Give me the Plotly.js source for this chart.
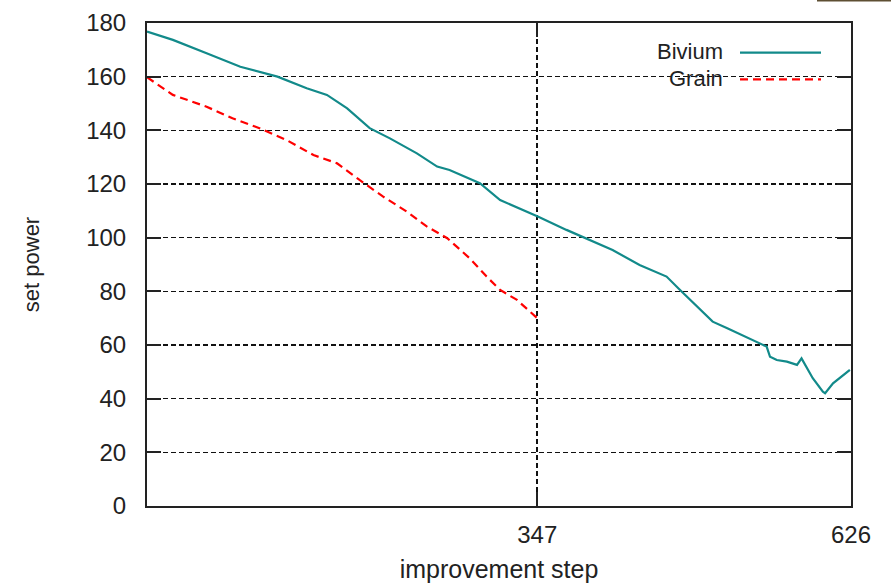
<!DOCTYPE html>
<html>
<head>
<meta charset="utf-8">
<script src="https://cdn.plot.ly/plotly-3.0.1.min.js"></script>
<style>html,body{margin:0;padding:0;background:#fff;}#chart{width:891px;height:586px;}</style>
</head>
<body>
<div id="chart"></div>
<script>
// Bivium series (improvement step, set power)
const biviumSteps = [0, 23, 53, 83, 116, 142, 160, 178, 198, 216, 240, 258, 269, 296, 314, 348, 373, 394, 414, 438, 462, 474, 486, 503, 516, 539, 551, 554, 560, 569, 578, 582, 587, 592, 601, 603, 610, 619, 625];
const biviumPower = [176.8, 173.7, 168.7, 163.7, 160, 155.7, 153.2, 148.2, 140.8, 137, 131.4, 126.5, 125.2, 120.3, 114, 107.8, 102.9, 99.1, 95.4, 89.8, 85.5, 80.5, 75.5, 68.7, 66.2, 61.9, 59.4, 55.6, 54.4, 53.8, 52.6, 55, 51.3, 47.6, 42.6, 42, 45.7, 48.8, 50.7];
// Grain series
const grainSteps = [0, 23, 53, 76, 100, 124, 148, 169, 189, 210, 231, 249, 267, 287, 302, 314, 329, 347];
const grainPower = [159.8, 153.2, 148.8, 144.5, 140.8, 136.4, 130.8, 127.7, 121.5, 115.3, 109.7, 104.1, 99.8, 92.3, 85.5, 80.5, 76.8, 70];
// Axis ticks
const xTickVals = [347, 626];
const xTickText = ["347", "626"];
const yTickVals = [0, 20, 40, 60, 80, 100, 120, 140, 160, 180];
const seriesNames = ["Bivium", "Grain"];

const tealColor = '#128a8a';
const redColor = '#ff0000';
const font = 'Liberation Sans, Arial, sans-serif';

const traces = [
  {x: biviumSteps, y: biviumPower, name: seriesNames[0], mode: 'lines', type: 'scatter',
   line: {color: tealColor, width: 2.2}},
  {x: grainSteps, y: grainPower, name: seriesNames[1], mode: 'lines', type: 'scatter',
   line: {color: redColor, width: 2.2, dash: '8px,5px'}}
];

function px2x(p){ return (p - 147) / 704; }
function py2y(p){ return (506 - p) / 483; }

const layout = {
  width: 891, height: 586,
  margin: {l: 147, r: 40, t: 23, b: 80},
  paper_bgcolor: '#fff', plot_bgcolor: '#fff',
  showlegend: false,
  font: {family: font, size: 24, color: '#222'},
  xaxis: {
    range: [0, 626], tickvals: xTickVals, ticktext: xTickText,
    showline: true, linecolor: '#222', linewidth: 2, mirror: 'ticks',
    ticks: 'inside', ticklen: 14, tickwidth: 2, tickcolor: '#222',
    showgrid: true, gridcolor: '#111', gridwidth: 1.6, griddash: '5px,3px',
    zeroline: false, ticklabelstandoff: 6,
    title: {text: 'improvement step', font: {size: 25, family: font, color: '#222'}, standoff: 14}
  },
  yaxis: {
    range: [0, 180], tickvals: yTickVals,
    showline: true, linecolor: '#222', linewidth: 2, mirror: 'ticks',
    ticks: 'inside', ticklen: 14, tickwidth: 2, tickcolor: '#222',
    showgrid: true, gridcolor: '#111', gridwidth: 1.6, griddash: '5px,3px',
    zeroline: false, ticklabelstandoff: 14,
    title: {text: 'set power', font: {size: 22, family: font, color: '#222'}, standoff: 40}
  },
  shapes: [
    {type: 'rect', xref: 'paper', yref: 'paper', layer: 'between',
     x0: px2x(628), x1: px2x(834), y0: py2y(95), y1: py2y(33),
     fillcolor: '#fff', line: {width: 0}},
    {type: 'line', xref: 'paper', yref: 'paper', layer: 'above',
     x0: px2x(740), x1: px2x(821), y0: py2y(52.7), y1: py2y(52.7),
     line: {color: tealColor, width: 2.2}},
    {type: 'line', xref: 'paper', yref: 'paper', layer: 'above',
     x0: px2x(740), x1: px2x(821), y0: py2y(79.3), y1: py2y(79.3),
     line: {color: redColor, width: 2.2, dash: '8px,5px'}},
    {type: 'line', xref: 'paper', yref: 'paper', layer: 'above',
     x0: px2x(817), x1: px2x(891), y0: py2y(0.5), y1: py2y(0.5),
     line: {color: '#5e4f33', width: 2}}
  ],
  annotations: [
    {xref: 'paper', yref: 'paper', x: px2x(724), y: py2y(51), xanchor: 'right', yanchor: 'middle',
     text: seriesNames[0], showarrow: false, borderpad: 0, font: {size: 22, family: font, color: '#222'}},
    {xref: 'paper', yref: 'paper', x: px2x(724), y: py2y(78), xanchor: 'right', yanchor: 'middle',
     text: seriesNames[1], showarrow: false, borderpad: 0, font: {size: 22, family: font, color: '#222'}}
  ]
};

Plotly.newPlot('chart', traces, layout, {displayModeBar: false, staticPlot: true});
</script>
</body>
</html>
